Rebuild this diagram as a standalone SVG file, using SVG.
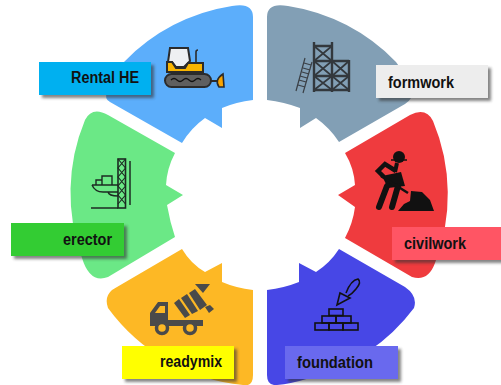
<svg xmlns="http://www.w3.org/2000/svg" width="501" height="385" viewBox="0 0 501 385">
<defs>
<filter id="sh" x="-15%" y="-30%" width="135%" height="170%"><feGaussianBlur stdDeviation="1.6"/></filter>
</defs>
<style>
.lab{font-family:"Liberation Sans",Arial,sans-serif;font-weight:700;font-size:16px;fill:#111}
.shadow{fill:#333;opacity:.6;filter:url(#sh)}
.k{fill:none;stroke:#111;stroke-width:1.6}
.d{fill:none;stroke:#33383d;stroke-width:2.4}
.t{fill:none;stroke:#3a3f45;stroke-width:1.2}
</style>
<rect width="501" height="385" fill="#fff"/>
<g id="rental-he">
<path d="M253 17V100Q236 102 222 108V128L205 118Q191 128 182 143L110 102Q104 99 107 92Q113 76 124 62A190 190 0 0 1 232 6Q253 2 253 17Z" fill="#5CAEFB"/>
<g stroke="#2b2b2b" stroke-width="2">
<path d="M170 48H188L190 61L184 67H176L172 62H168Z" fill="#eef0f2"/>
<path d="M167 62H172L176 68H185L188 63H203V72H167Z" fill="#F9B500"/>
<path d="M196 62V52Q196 50 198 50" fill="none" stroke-width="1.6"/>
<rect x="165" y="74" width="46" height="13" rx="6.500" fill="#5f5f5f"/>
<path d="M171 80q3-3 6 0t6 0t6 0t6 0t6 0" fill="none" stroke="#111" stroke-width="1.200"/>
<path d="M211 81H217"/>
<path d="M223 74Q214 80 219 87H224Z" fill="#F9A400" stroke-width="1.600"/>
</g>
<rect class="shadow" x="42" y="65" width="112" height="33"/>
<rect x="39" y="62" width="112" height="33" fill="#00B0F0"/>
<text class="lab" x="71" y="83" textLength="68" lengthAdjust="spacingAndGlyphs">Rental HE</text>
</g>
<g id="formwork">
<path d="M267 17V100Q284 102 300 108V128L316 118Q330 128 339 142L405 104Q414 98 411 92Q407 76 396 62A190 190 0 0 0 288 6Q267 2 267 17Z" fill="#829FB5"/>
<g class="d">
<path d="M314 42V92M332 42V92M349 60V92"/>
<path d="M314 46H332M314 61H349M314 76H349M314 90H349"/>
<path d="M314 46L332 61M332 46L314 61M314 61L332 76M332 61L314 76M314 76L332 90M332 76L314 90M332 61L349 76M349 61L332 76M332 76L349 90M349 76L332 90" stroke-width="1.700"/>
</g>
<g class="t">
<path d="M305 58L296 91M312 62L303 93"/>
<path d="M304 63L311 65M303 68L310 70M302 72L309 74M300 76L307 78M299 80L306 82M298 85L305 87"/>
</g>
<rect class="shadow" x="379" y="68" width="112" height="33"/>
<rect x="376" y="65" width="112" height="33" fill="#EDEDED"/>
<text class="lab" x="388" y="88" textLength="66" lengthAdjust="spacingAndGlyphs">formwork</text>
</g>
<g id="civilwork">
<path d="M345 153L410 115Q426 107 433 121A190 190 0 0 1 435 263Q428 282 412 277L345 238Q353 223 355 207L338 195L355 185Q354 168 345 153Z" fill="#EF3B3E"/>
<g fill="#111">
<circle cx="399" cy="157" r="6"/>
<path d="M391 160H407" stroke="#111" stroke-width="1.500"/>
<path d="M397 163L395 172" stroke="#111" stroke-width="4"/>
<path d="M396 171L385 164L378 171L384 177" fill="none" stroke="#111" stroke-width="4.500"/>
<path d="M382 176L401 172L405 186L388 188Z"/>
<path d="M387 186L379 207" stroke="#111" stroke-width="6" stroke-linecap="round"/>
<path d="M398 186L392 207" stroke="#111" stroke-width="6" stroke-linecap="round"/>
<path d="M381 176L408 193" stroke="#111" stroke-width="2.500"/>
<path d="M398 211L404 204L410 201L411 191L422 192L430 200L434 211Z"/>
</g>
<rect class="shadow" x="395" y="230" width="110" height="33"/>
<rect x="392" y="227" width="109" height="33" fill="#FF5564"/>
<text class="lab" x="404" y="249" textLength="62" lengthAdjust="spacingAndGlyphs">civilwork</text>
</g>
<g id="foundation">
<path d="M267 290Q284 288 299 282V263L316 272Q330 263 339 249L405 287Q418 296 414 308A190 190 0 0 1 310 378Q290 384 277 385Q267 386 267 375Z" fill="#4747E6"/>
<g class="k">
<path d="M337 305L340 293L350 298Z"/>
<path d="M346 293Q351 280 358 279Q362 282 356 289Q352 294 348 296"/>
<rect x="329" y="309" width="14" height="6.500"/>
<rect x="322" y="316" width="14" height="7"/><rect x="336" y="316" width="15" height="7"/>
<rect x="315" y="323" width="14" height="7"/><rect x="329" y="323" width="14" height="7"/><rect x="343" y="323" width="15" height="7"/>
</g>
<rect class="shadow" x="288" y="349" width="113" height="33"/>
<rect x="285" y="346" width="113" height="33" fill="#6969EE"/>
<text class="lab" x="297" y="368" textLength="76" lengthAdjust="spacingAndGlyphs">foundation</text>
</g>
<g id="readymix">
<path d="M182 249Q191 264 205 272L222 263V282Q236 288 253 290V375Q253 387 243 385A190 190 0 0 1 108 308Q104 297 112 290L117 287Z" fill="#FDB825"/>
<g fill="#4a4a4a">
<path d="M150 325V313L158 302H168V320H203V326H150Z"/>
<path d="M155 313L160 306H165V313Z" fill="#FDB825"/>
<circle cx="162" cy="328" r="5.500" fill="#FDB825" stroke="#4a4a4a" stroke-width="3.500"/>
<circle cx="190" cy="328" r="5.500" fill="#FDB825" stroke="#4a4a4a" stroke-width="3.500"/>
<path d="M174 303L179 299L190 315L185 318Z"/>
<path d="M181 298L187 294L198 311L192 314Z"/>
<path d="M189 293L195 289L207 305L200 310Z"/>
<path d="M195 284H210L203 293Z"/>
<path d="M205 307L210 305L214 309L209 313Z"/>
</g>
<rect class="shadow" x="125" y="349" width="112" height="33"/>
<rect x="122" y="346" width="112" height="33" fill="#FFFF00"/>
<text class="lab" x="160" y="367" textLength="62" lengthAdjust="spacingAndGlyphs">readymix</text>
</g>
<g id="erector">
<path d="M175 153L108 115Q92 106 85 120A190 190 0 0 0 82 258Q90 284 108 277L175 237Q170 222 167 205L183 195L166 185Q167 168 175 153Z" fill="#6BE886"/>
<g stroke="#1c2a22" fill="none">
<rect x="118" y="159" width="7.500" height="49" stroke-width="1.600"/>
<path d="M118 159L125.500 168L118 177L125.500 186L118 195L125.500 204M125.500 159L118 168L125.500 177L118 186L125.500 195L118 204" stroke-width="1.100"/>
<path d="M130 161V205" stroke-width="1.500"/>
<path d="M91 208H118" stroke-width="1.500"/>
<path d="M92 185H118M92 185Q95 192 103 192H118M108 192Q109 196 118 196" stroke-width="1.400"/>
<path d="M96 185V180H102V185M102 185V176H112V185" stroke-width="1.400"/>
</g>
<rect class="shadow" x="14" y="226" width="113" height="33"/>
<rect x="11" y="223" width="113" height="33" fill="#33CC33"/>
<text class="lab" x="63" y="245" textLength="49" lengthAdjust="spacingAndGlyphs">erector</text>
</g>
</svg>
